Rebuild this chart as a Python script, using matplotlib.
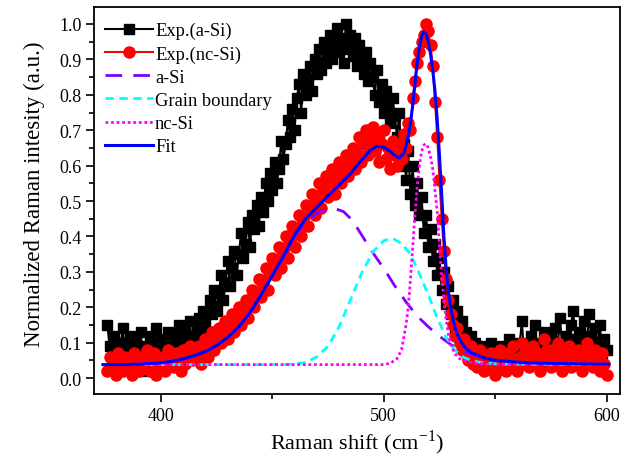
import numpy as np
import matplotlib
matplotlib.use("Agg")
import matplotlib.pyplot as plt
from matplotlib.ticker import MultipleLocator, FormatStrFormatter

plt.rcParams['font.family'] = ['Liberation Serif', 'DejaVu Serif']
plt.rcParams['mathtext.fontset'] = 'custom'
plt.rcParams['mathtext.rm'] = 'Liberation Serif'

# ---- experimental data (Raman shift grid, cm^-1) ----
shift = list(range(376, 601))

exp_asi = [0.15, 0.09, 0.05, 0.12, 0.08, 0.03, 0.10, 0.14, 0.06, 0.09,
           0.12, 0.04, 0.08, 0.11, 0.06, 0.13, 0.02, 0.09, 0.07, 0.12,
           0.05, 0.10, 0.14, 0.08, 0.03, 0.11, 0.07, 0.13, 0.09, 0.04,
           0.12, 0.08, 0.15, 0.06, 0.10, 0.13, 0.05, 0.16, 0.09, 0.12,
           0.14, 0.17, 0.11, 0.19, 0.16, 0.13, 0.22, 0.18, 0.25, 0.19,
           0.24, 0.29, 0.22, 0.27, 0.33, 0.26, 0.31, 0.36, 0.29, 0.35,
           0.41, 0.34, 0.38, 0.44, 0.37, 0.46, 0.42, 0.49, 0.43, 0.51,
           0.47, 0.55, 0.50, 0.58, 0.53, 0.61, 0.55, 0.59, 0.67, 0.62,
           0.66, 0.73, 0.68, 0.76, 0.70, 0.79, 0.83, 0.75, 0.86, 0.80,
           0.84, 0.88, 0.81, 0.90, 0.86, 0.93, 0.87, 0.95, 0.89, 0.92,
           0.97, 0.90, 0.94, 0.99, 0.92, 0.96, 0.89, 1.00, 0.93, 0.97,
           0.91, 0.96, 0.88, 0.94, 0.90, 0.86, 0.92, 0.84, 0.89, 0.85,
           0.80, 0.87, 0.78, 0.83, 0.75, 0.81, 0.77, 0.72, 0.79, 0.74,
           0.68, 0.75, 0.60, 0.66, 0.56, 0.64, 0.52, 0.60, 0.49, 0.55,
           0.46, 0.51, 0.41, 0.46, 0.37, 0.42, 0.33, 0.38, 0.29, 0.34,
           0.25, 0.30, 0.21, 0.26, 0.18, 0.22, 0.14, 0.19, 0.12, 0.16,
           0.11, 0.13, 0.09, 0.12, 0.08, 0.10, 0.06, 0.09, 0.05, 0.08,
           0.04, 0.07, 0.10, 0.05, 0.08, 0.03, 0.06, 0.09, 0.04, 0.07,
           0.11, 0.05, 0.08, 0.03, 0.07, 0.10, 0.16, 0.06, 0.09, 0.04,
           0.12, 0.07, 0.15, 0.05, 0.10, 0.08, 0.13, 0.04, 0.09, 0.11,
           0.06, 0.14, 0.08, 0.17, 0.10, 0.05, 0.12, 0.09, 0.15, 0.19,
           0.11, 0.07, 0.13, 0.10, 0.16, 0.08, 0.18, 0.12, 0.06, 0.14,
           0.09, 0.15, 0.05, 0.11, 0.08]

exp_ncsi = [0.02, 0.06, 0.03, 0.05, 0.01, 0.07, 0.04, 0.02, 0.06, 0.03,
            0.05, 0.01, 0.07, 0.04, 0.02, 0.06, 0.03, 0.05, 0.08, 0.02,
            0.04, 0.07, 0.01, 0.05, 0.03, 0.06, 0.02, 0.08, 0.04, 0.06,
            0.03, 0.07, 0.05, 0.02, 0.08, 0.04, 0.06, 0.09, 0.05, 0.07,
            0.05, 0.09, 0.04, 0.08, 0.11, 0.06, 0.10, 0.13, 0.08, 0.11,
            0.14, 0.10, 0.13, 0.16, 0.11, 0.15, 0.18, 0.13, 0.17, 0.20,
            0.15, 0.19, 0.22, 0.17, 0.21, 0.25, 0.20, 0.24, 0.28, 0.23,
            0.27, 0.31, 0.25, 0.30, 0.34, 0.29, 0.33, 0.37, 0.31, 0.36,
            0.40, 0.34, 0.39, 0.43, 0.37, 0.42, 0.46, 0.40, 0.45, 0.49,
            0.43, 0.48, 0.52, 0.46, 0.50, 0.55, 0.48, 0.53, 0.57, 0.51,
            0.55, 0.59, 0.52, 0.57, 0.61, 0.55, 0.59, 0.63, 0.57, 0.61,
            0.65, 0.59, 0.63, 0.68, 0.61, 0.66, 0.70, 0.63, 0.67, 0.71,
            0.64, 0.68, 0.61, 0.66, 0.70, 0.62, 0.65, 0.59, 0.67, 0.63,
            0.60, 0.66, 0.62, 0.69, 0.65, 0.72, 0.70, 0.79, 0.84, 0.89,
            0.92, 0.95, 0.97, 1.00, 0.98, 0.94, 0.88, 0.78, 0.68, 0.56,
            0.45, 0.36, 0.28, 0.22, 0.18, 0.15, 0.12, 0.14, 0.10, 0.08,
            0.11, 0.07, 0.05, 0.09, 0.04, 0.06, 0.03, 0.08, 0.05, 0.02,
            0.06, 0.03, 0.07, 0.04, 0.01, 0.05, 0.08, 0.03, 0.06, 0.02,
            0.07, 0.04, 0.09, 0.05, 0.02, 0.06, 0.10, 0.04, 0.07, 0.03,
            0.05, 0.09, 0.04, 0.07, 0.02, 0.06, 0.11, 0.05, 0.08, 0.03,
            0.07, 0.04, 0.10, 0.06, 0.02, 0.08, 0.05, 0.09, 0.03, 0.07,
            0.04, 0.08, 0.05, 0.02, 0.07, 0.10, 0.04, 0.06, 0.03, 0.08,
            0.05, 0.02, 0.07, 0.04, 0.01]

# ---- fitted components ----
fit_x = [374, 380, 390, 400, 405, 410, 415, 420, 425, 430, 435, 440, 445, 450, 455, 460,
         465, 470, 475, 480, 485, 490, 494, 497, 500, 503, 505, 507, 509, 510, 511, 512,
         513, 514, 515, 516, 517, 518, 519, 520, 521, 522, 523, 524, 525, 526, 527, 528,
         529, 530, 532, 534, 536, 538, 540, 545, 550, 560, 570, 580, 590, 601]
fit_y = [0.038, 0.038, 0.039, 0.043, 0.047, 0.054, 0.063, 0.075, 0.092, 0.115, 0.145,
         0.185, 0.235, 0.290, 0.345, 0.405, 0.450, 0.482, 0.515, 0.545, 0.577, 0.615,
         0.643, 0.655, 0.652, 0.640, 0.628, 0.622, 0.635, 0.655, 0.685, 0.720, 0.770,
         0.830, 0.890, 0.935, 0.965, 0.978, 0.972, 0.950, 0.915, 0.870, 0.810, 0.730,
         0.630, 0.520, 0.400, 0.310, 0.245, 0.200, 0.140, 0.110, 0.090, 0.078, 0.070,
         0.057, 0.050, 0.045, 0.042, 0.041, 0.040, 0.039]

asi_x = [374, 380, 390, 400, 405, 410, 415, 420, 425, 430, 435, 440, 445, 450, 455, 460,
         465, 470, 475, 478, 482, 486, 490, 495, 500, 505, 510, 515, 520, 525, 530, 535,
         540, 545, 550, 560, 570, 580, 601]
asi_y = [0.038, 0.038, 0.039, 0.043, 0.047, 0.054, 0.063, 0.075, 0.092, 0.115, 0.145,
         0.185, 0.235, 0.288, 0.342, 0.400, 0.440, 0.465, 0.478, 0.479, 0.470, 0.445,
         0.405, 0.355, 0.310, 0.260, 0.215, 0.175, 0.145, 0.118, 0.095, 0.078, 0.065,
         0.056, 0.050, 0.044, 0.041, 0.040, 0.039]

gb_x = [374, 400, 440, 455, 460, 465, 470, 475, 480, 485, 490, 495, 500, 504, 508, 512,
        516, 520, 524, 528, 532, 536, 540, 545, 550, 560, 601]
gb_y = [0.038, 0.038, 0.038, 0.038, 0.040, 0.044, 0.060, 0.090, 0.145, 0.220, 0.295,
        0.355, 0.388, 0.395, 0.380, 0.350, 0.295, 0.235, 0.170, 0.115, 0.078, 0.058,
        0.048, 0.043, 0.040, 0.039, 0.038]

nc_x = [374, 450, 500, 503, 506, 508, 510, 511, 512, 513, 514, 515, 516, 517, 518, 519,
        520, 521, 522, 523, 524, 525, 526, 527, 528, 529, 530, 532, 534, 537, 540, 545,
        550, 601]
nc_y = [0.038, 0.038, 0.038, 0.042, 0.055, 0.080, 0.150, 0.200, 0.280, 0.370, 0.460,
        0.540, 0.600, 0.640, 0.658, 0.662, 0.650, 0.625, 0.590, 0.530, 0.470, 0.370,
        0.290, 0.220, 0.165, 0.125, 0.095, 0.068, 0.055, 0.047, 0.043, 0.040, 0.039, 0.038]

legend_labels = ["Exp.(a-Si)", "Exp.(nc-Si)", "a-Si", "Grain boundary", "nc-Si", "Fit"]

fig = plt.figure(figsize=(6.32, 4.60), dpi=100)
ax = fig.add_axes([0.1487, 0.1413, 0.8323, 0.8413])

ax.plot(shift, exp_asi, color='black', lw=1.5, marker='s', ms=6.5,
        label=legend_labels[0], zorder=2)
ax.plot(shift, exp_ncsi, color='red', lw=1.5, marker='o', ms=8.0,
        label=legend_labels[1], zorder=3)
ax.plot(asi_x, asi_y, color='#8000FF', lw=2.0, ls=(0, (6, 4)),
        label=legend_labels[2], zorder=4)
ax.plot(gb_x, gb_y, color='#00FFFF', lw=2.0, ls=(0, (3, 2)),
        label=legend_labels[3], zorder=4)
ax.plot(nc_x, nc_y, color='#FF00FF', lw=2.0, ls=(0, (1, 1)),
        label=legend_labels[4], zorder=4)
ax.plot(fit_x, fit_y, color='#0000FF', lw=2.2, label=legend_labels[5], zorder=5)

ax.set_xlim(370, 606)
ax.set_ylim(-0.045, 1.048)
ax.xaxis.set_major_locator(MultipleLocator(100))
ax.xaxis.set_minor_locator(MultipleLocator(50))
ax.yaxis.set_major_locator(MultipleLocator(0.1))
ax.yaxis.set_minor_locator(MultipleLocator(0.05))
ax.yaxis.set_major_formatter(FormatStrFormatter('%.1f'))
ax.tick_params(which='both', direction='out', top=False, right=False, labelsize=13,
               width=1.2)
ax.tick_params(which='major', length=5.5)
ax.tick_params(which='minor', length=3.5)
for s in ax.spines.values():
    s.set_linewidth(1.3)

ax.set_xlabel("Raman shift (cm$^{-1}$)", fontsize=16, labelpad=3)
ax.set_ylabel("Normalized Raman intesity (a.u.)", fontsize=16.5)
ax.yaxis.set_label_coords(-0.093, 0.518)

ax.legend(loc='upper left', frameon=False, fontsize=13.3, handlelength=2.6,
          labelspacing=0.33, handletextpad=0.1, borderaxespad=0.2,
          bbox_to_anchor=(0.0, 0.99))

fig.savefig("out.png", dpi=100)
